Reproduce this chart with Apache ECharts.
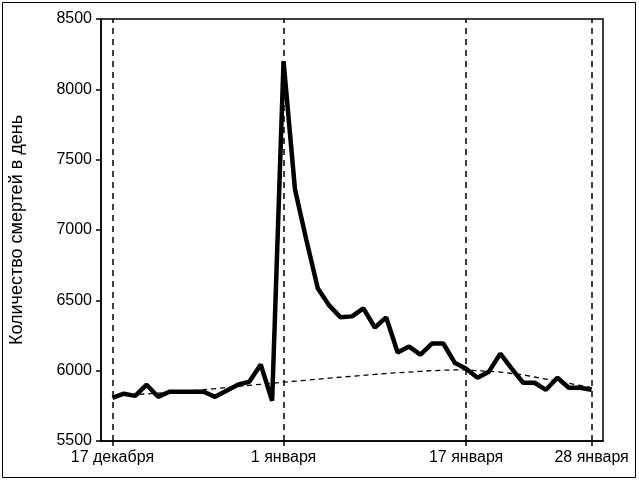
<!DOCTYPE html>
<html>
<head>
<meta charset="utf-8">
<script src="https://cdn.jsdelivr.net/npm/echarts@6/dist/echarts.min.js"></script>
<style>
html, body { margin: 0; padding: 0; background: #fff; }
#charts { width: 639px; height: 481px; }
</style>
</head>
<body>
<div id="charts"></div>
<script>
// day index: 0 = 17 декабря, 15 = 1 января, 31 = 17 января, 42 = 28 января
var tickDays = [0, 15, 31, 42];
var tickLabels = ['17 декабря', '1 января', '17 января', '28 января'];

var deaths = [5807, 5836, 5821, 5900, 5814, 5850, 5850, 5850, 5850, 5814,
    5857, 5900, 5921, 6043, 5786, 8200, 7290, 6929, 6586, 6464,
    6379, 6386, 6443, 6307, 6379, 6129, 6171, 6114, 6193, 6193,
    6057, 6014, 5950, 5993, 6121, 6014, 5914, 5914, 5864, 5950,
    5879, 5879, 5864];

var baseline = [5820, 5825, 5830, 5835, 5840, 5845, 5850, 5858, 5865, 5872,
    5880, 5888, 5896, 5903, 5910, 5918, 5925, 5932, 5940, 5947,
    5954, 5960, 5967, 5973, 5980, 5985, 5990, 5995, 6000, 6003,
    6005, 6005, 6000, 5995, 5990, 5980, 5970, 5955, 5940, 5925,
    5910, 5895, 5880];

function toPairs(arr) {
    return arr.map(function (v, i) { return [i, v]; });
}

window.onload = function () {
    var myChart = echarts.init(document.getElementById('charts'));
    var font = 'Arial, "Liberation Sans", sans-serif';
    var option = {
        animation: false,
        graphic: [{
            type: 'rect',
            shape: { x: 2.5, y: 2.5, width: 633, height: 475 },
            style: { fill: 'none', stroke: '#000', lineWidth: 1 }
        }],
        grid: { left: 93, top: 19, right: 36, bottom: 40, show: true, borderColor: '#000', borderWidth: 1.5 },
        xAxis: {
            type: 'value',
            min: -1,
            max: 43,
            splitLine: { show: false },
            axisLine: { onZero: false, lineStyle: { color: '#000', width: 1.5 } },
            axisTick: { customValues: tickDays, length: 5, lineStyle: { color: '#000', width: 1.5 } },
            axisLabel: {
                customValues: tickDays,
                formatter: function (v) { return tickLabels[tickDays.indexOf(v)]; },
                color: '#000', fontSize: 16, fontFamily: font, margin: 9
            }
        },
        yAxis: {
            type: 'value',
            min: 5500,
            max: 8500,
            interval: 500,
            name: 'Количество смертей в день',
            nameLocation: 'middle',
            nameGap: 75,
            nameTextStyle: { color: '#000', fontSize: 18, fontFamily: font },
            splitLine: { show: false },
            axisLine: { show: true, onZero: false, lineStyle: { color: '#000', width: 1.5 } },
            axisTick: { show: true, length: 5, lineStyle: { color: '#000', width: 1.5 } },
            axisLabel: {
                formatter: function (v) { return String(v); },
                color: '#000', fontSize: 16, fontFamily: font, margin: 9
            }
        },
        series: [
            {
                type: 'line',
                data: toPairs(baseline),
                symbol: 'none',
                lineStyle: { color: '#000', width: 1.3, type: [5, 4] },
                markLine: {
                    silent: true,
                    symbol: 'none',
                    label: { show: false },
                    lineStyle: { color: '#000', width: 1.5, type: [6, 5] },
                    data: tickDays.map(function (d) { return { xAxis: d }; })
                },
                z: 2
            },
            {
                type: 'line',
                data: toPairs(deaths),
                symbol: 'none',
                lineStyle: { color: '#000', width: 4.5 },
                z: 3
            }
        ]
    };
    myChart.setOption(option);
};
</script>
</body>
</html>
